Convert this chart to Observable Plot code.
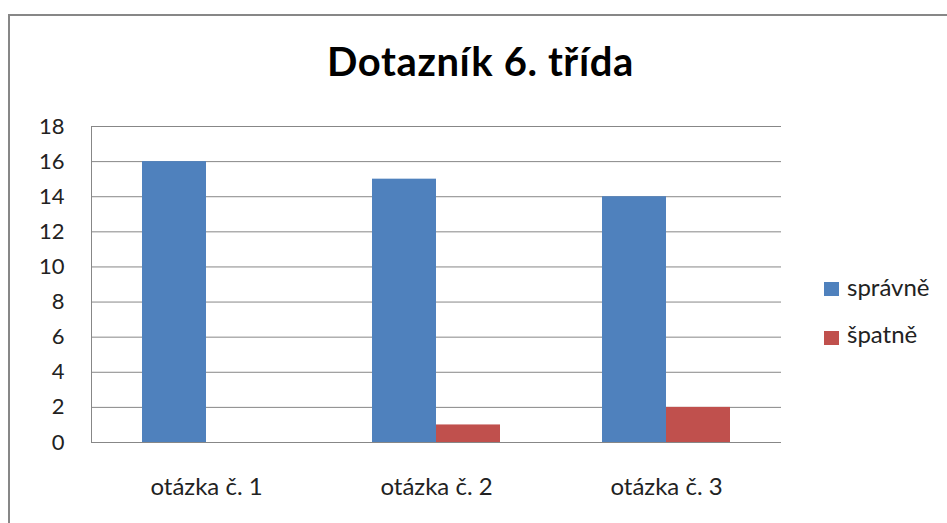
<!DOCTYPE html>
<html><head><meta charset="utf-8">
<script src="https://cdn.jsdelivr.net/npm/d3@7"></script>
<script src="https://cdn.jsdelivr.net/npm/@observablehq/plot@0.6"></script>
<style>
body{margin:0;background:#fff;}
#wrap{position:relative;width:947px;height:523px;overflow:hidden;font-family:Lato,sans-serif;color:#222;}
#chart{position:absolute;left:0;top:0;}
#frame{position:absolute;left:8px;top:14px;width:960px;height:540px;border-left:2px solid #878787;border-top:2px solid #878787;}
#title{position:absolute;left:0;width:961px;top:41px;text-align:center;font-weight:bold;font-size:40px;line-height:40px;letter-spacing:0.6px;color:#000;white-space:nowrap;}
.sw{position:absolute;left:824px;width:15px;height:14px;}
.lt{position:absolute;left:847px;font-size:24px;line-height:24px;white-space:nowrap;}
</style>
</head><body>
<div id="wrap">
  <div id="chart"></div>
  <div id="frame"></div>
  <div id="title"></div>
  <div id="legend"></div>
</div>
<script>
const titleText = "Dotazník 6. třída";
const categories = ["otázka č. 1", "otázka č. 2", "otázka č. 3"];
const series = ["správně", "špatně"];
const spravne = [16, 15, 14];
const spatne = [0, 1, 2];
const colors = ["#4F81BD", "#C0504D"];
const yTicks = [0, 2, 4, 6, 8, 10, 12, 14, 16, 18];

const values = [spravne, spatne];
const data = categories.flatMap((c, i) => series.map((s, j) => ({cat: c, ser: s, val: values[j][i]})));

const chart = Plot.plot({
  width: 947,
  height: 523,
  marginLeft: 90,
  marginRight: 165,
  marginTop: 126,
  marginBottom: 81,
  style: {fontFamily: "Lato, sans-serif", fontSize: "22px", color: "#222", background: "transparent"},
  fx: {domain: categories, padding: 0, label: null, axis: null},
  x: {domain: series, paddingInner: 0, paddingOuter: 0.775, axis: null},
  y: {domain: [0, 18], ticks: yTicks, label: null, tickSize: 0, tickPadding: 27},
  color: {domain: series, range: colors},
  marks: [
    Plot.gridY(yTicks, {stroke: "#878787", strokeOpacity: 1}),
    Plot.frame({anchor: "left", stroke: "#878787", fx: () => categories[0]}),
    Plot.barY(data, {fx: "cat", x: "ser", y: "val", fill: "ser"}),
    Plot.axisFx({anchor: "bottom", tickSize: 0, tickPadding: 35, fontSize: 24, label: null})
  ]
});
document.getElementById("chart").appendChild(chart);
document.getElementById("title").textContent = titleText;

const legend = document.getElementById("legend");
const swTop = [282, 331];
const txTop = [275, 322];
series.forEach((s, j) => {
  const sw = document.createElement("div");
  sw.className = "sw";
  sw.style.top = swTop[j] + "px";
  sw.style.background = colors[j];
  legend.appendChild(sw);
  const t = document.createElement("div");
  t.className = "lt";
  t.style.top = txTop[j] + "px";
  t.textContent = s;
  legend.appendChild(t);
});
</script>
</body></html>
